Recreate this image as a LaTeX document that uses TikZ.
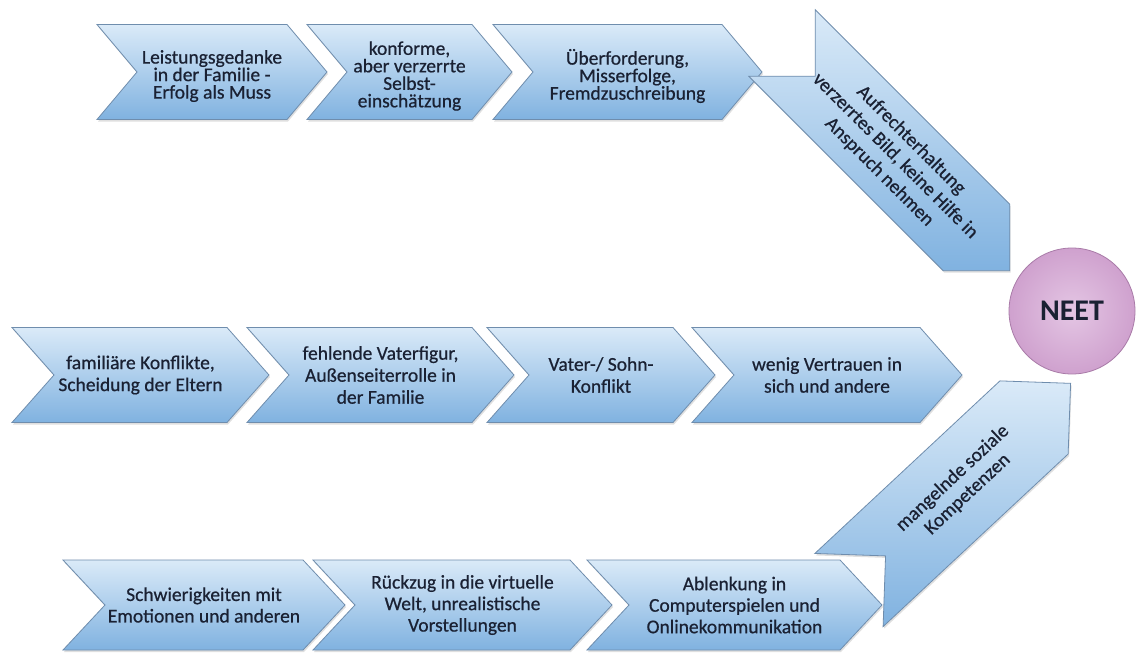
\documentclass[tikz,border=0pt]{standalone}
\usepackage{fontspec}
\setmainfont{Carlito}
\newfontfamily\lblfont{Carlito}[FakeBold=0.6]
\usetikzlibrary{shadows}

\definecolor{chevtop}{HTML}{DAEAF8}
\definecolor{chevmid}{HTML}{AFD0EE}
\definecolor{chevbot}{HTML}{80B2E0}
\definecolor{chevline}{HTML}{6F8DAD}
\definecolor{txt}{HTML}{1A2133}
\definecolor{neetin}{HTML}{E4C6E4}
\definecolor{neetout}{HTML}{CFA1CE}
\definecolor{neetline}{HTML}{A97BA8}

% chevron in a row: name, left x, body right x, centre y, text
% half height \hh, point depth \dd, line spacing \bs, text drop \td
\newcommand\rowchev[5]{%
  \path[chev] (#2,#4-\hh) -- (#3,#4-\hh) -- (#3+\dd,#4) -- (#3,#4+\hh)
    -- (#2,#4+\hh) -- (#2+\dd,#4) -- cycle;
  \node[lbl] (#1) at ({(#2+\dd+#3)/2},#4+\td) {#5};
}

\begin{document}
\begin{tikzpicture}[x=1pt,y=-1pt,
  chev/.style={draw=chevline, line width=0.8pt,
    top color=chevtop, middle color=chevmid, bottom color=chevbot,
    drop shadow={shadow xshift=1pt, shadow yshift=-2pt, opacity=0.25}},
  lbl/.style={text=txt, align=center, inner sep=0pt,
    font=\lblfont\fontsize{19.5}{\bs}\selectfont}]
\useasboundingbox[fill=white] (0,0) rectangle (1138,653);

% first row
\def\hh{47.5}\def\dd{40}\def\bs{17.5}\def\td{4}
\rowchev{r1a}{97}{287}{72}{Leistungsgedanke\\in der Familie -\\Erfolg als Muss}
\rowchev{r1b}{307}{472}{72}{konforme,\\aber verzerrte\\Selbst-\\einschätzung}
\rowchev{r1c}{493}{722}{72}{Überforderung,\\Misserfolge,\\Fremdzuschreibung}

% turn down towards NEET
\def\bs{22.5}
\begin{scope}[shift={(782,43)}, rotate=-45]
  \path[chev] (0,-47) -- (275,-47) -- (322,0) -- (275,47) -- (0,47) -- (47,0) -- cycle;
  \node[lbl, rotate=-45] (d1) at (160,0) {Aufrechterhaltung\\verzerrtes Bild, keine Hilfe in\\Anspruch nehmen};
\end{scope}

% second row
\def\hh{47.5}\def\dd{42}\def\bs{22}\def\td{0}
\rowchev{r2a}{12}{227}{375}{familiäre Konflikte,\\Scheidung der Eltern}
\rowchev{r2b}{247}{472}{375}{fehlende Vaterfigur,\\Außenseiterrolle in\\der Familie}
\rowchev{r2c}{487}{673}{375}{Vater-/ Sohn-\\Konflikt}
\rowchev{r2d}{692}{920}{375}{wenig Vertrauen in\\sich und andere}

% third row
\def\hh{45}\def\dd{42}\def\bs{21.5}\def\td{0}
\rowchev{r3a}{63}{303}{605}{Schwierigkeiten mit\\Emotionen und anderen}
\rowchev{r3b}{313}{570}{605}{Rückzug in die virtuelle\\Welt, unrealistische\\Vorstellungen}
\rowchev{r3c}{587}{840}{605}{Ablenkung in\\Computerspielen und\\Onlinekommunikation}

% turn up towards NEET
\def\bs{22}
\begin{scope}[shift={(849,590)}, rotate=43]
  \path[chev] (0,-50) -- (253,-50) -- (303,0) -- (253,50) -- (0,50) -- (50,0) -- cycle;
  \node[lbl, rotate=43] (d2) at (152,0) {mangelnde soziale\\Kompetenzen};
\end{scope}

% goal
\node[circle, minimum size=126pt, inner sep=0pt, draw=neetline, line width=0.8pt,
  inner color=neetin, outer color=neetout, text=txt,
  font=\fontsize{30}{36}\selectfont\bfseries] (neet) at (1072,311) {NEET};
\end{tikzpicture}
\end{document}
